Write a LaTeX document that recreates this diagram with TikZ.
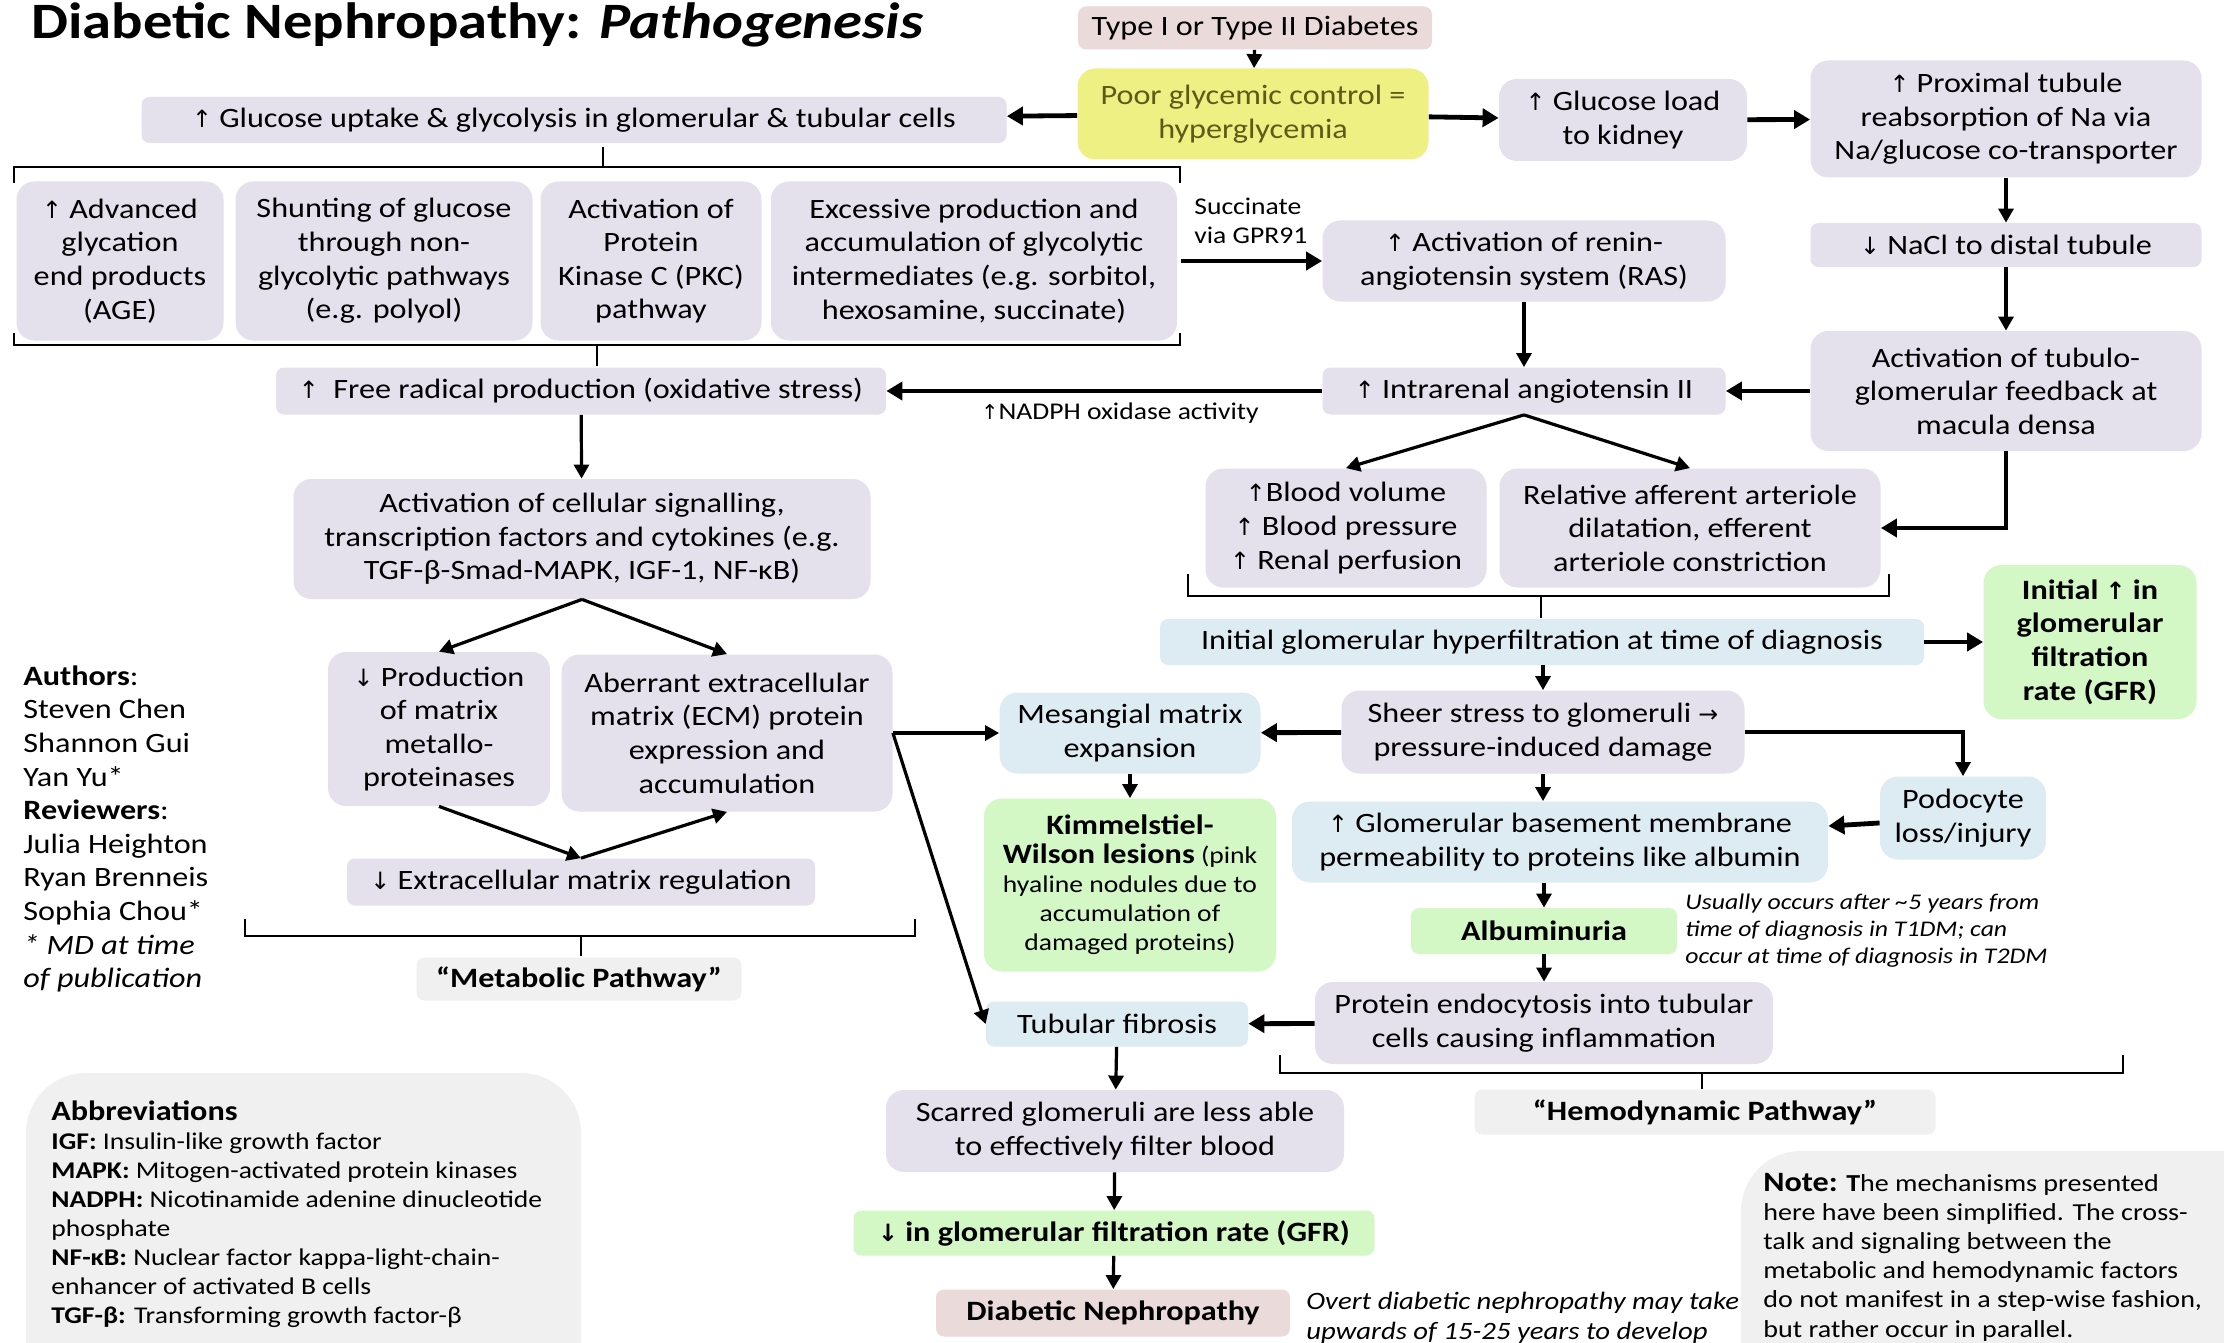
\documentclass[tikz,border=0pt]{standalone}
\usepackage{fontspec}
\setmainfont{Carlito}[FakeStretch=1.15]
\newfontfamily\symf[Scale=0.85]{DejaVu Sans}
\usetikzlibrary{arrows.meta,positioning}
\definecolor{purp}{HTML}{E4E0EC}
\definecolor{blu}{HTML}{DDEBF2}
\definecolor{grn}{HTML}{D3F8C6}
\definecolor{pnk}{HTML}{EBDADA}
\definecolor{ylw}{HTML}{EEF083}
\definecolor{olv}{HTML}{5C5C18}
\definecolor{lgray}{HTML}{F0F0F0}
\newcommand{\bodyf}{\fontsize{14}{16.8}\selectfont}
\newcommand{\smf}{\fontsize{12}{14.5}\selectfont}
\newcommand{\upa}{{\symf ↑}}
\newcommand{\dna}{{\symf ↓}}
\newcommand{\rta}{{\symf →}}
\tikzset{
  box/.style={align=center, inner sep=2pt, rounded corners=9pt, font=\bodyf},
  sz/.style 2 args={minimum width=#1*0.5pt, minimum height=#2*0.5pt},
  flat/.style={rounded corners=4pt},
  pbox/.style={box, fill=purp},
  bbox/.style={box, fill=blu},
  gbox/.style={box, fill=grn, font=\bodyf\bfseries},
  kbox/.style={box, fill=pnk},
  lbox/.style={box, fill=lgray, font=\bodyf\bfseries},
  txt/.style={align=left, inner sep=0pt, anchor=west},
  arr/.style={-{Triangle[length=7pt,width=7.5pt]}, line width=1.6pt},
  arrb/.style={-{Triangle[length=8pt,width=9pt]}, line width=2.4pt},
  brk/.style={line width=1.2pt},
}
\begin{document}
\begin{tikzpicture}[x=0.5pt,y=-0.5pt]
  \clip (0,0) rectangle (2224,1343);
  \fill[white] (0,0) rectangle (2224,1343);

  % title and side texts
  \node[txt, font=\fontsize{25.5}{30}\selectfont\bfseries] (title) at (31,25)
    {Diabetic Nephropathy: \textit{Pathogenesis}};
  \node[txt, font=\bodyf] (authors) at (23,829)
    {\textbf{Authors}:\\Steven Chen\\Shannon Gui\\Yan Yu*\\\textbf{Reviewers}:\\Julia Heighton\\Ryan Brenneis\\Sophia Chou*\\\textit{* MD at time}\\\textit{of publication}};
  \fill[lgray, rounded corners=30pt] (26,1073) rectangle (581,1400);
  \node[txt, font=\smf] (abbr) at (51,1214)
    {{\bodyf\textbf{Abbreviations}}\\\textbf{IGF:} Insulin-like growth factor\\\textbf{MAPK:} Mitogen-activated protein kinases\\\textbf{NADPH:} Nicotinamide adenine dinucleotide\\phosphate\\\textbf{NF-κB:} Nuclear factor kappa-light-chain-\\enhancer of activated B cells\\\textbf{TGF-β:} Transforming growth factor-β};
  \fill[lgray, rounded corners=30pt] (1741,1151) rectangle (2280,1400);
  \node[txt, font=\fontsize{12.2}{14.6}\selectfont] (note) at (1763,1257)
    {{\bodyf\textbf{Note:}} \textbf{T}he mechanisms presented\\here have been simplified. The cross-\\talk and signaling between the\\metabolic and hemodynamic factors\\do not manifest in a step-wise fashion,\\but rather occur in parallel.};

  % top row
  \node[kbox, flat, sz={354}{43}] (typ) at (1255,28) {Type I or Type II Diabetes};
  \node[box, fill=ylw, text=olv, sz={351}{91}] (poor) at (1253,114) {Poor glycemic control =\\hyperglycemia};
  \node[pbox, flat, sz={865}{46}] (gup) at (574,120) {\upa{} Glucose uptake \& glycolysis in glomerular \& tubular cells};
  \node[pbox, sz={248}{82}] (gload) at (1623,120) {\upa{} Glucose load\\to kidney};
  \node[pbox, sz={391}{117}] (prox) at (2006,119) {\upa{} Proximal tubule\\reabsorption of Na via\\Na/glucose co-transporter};
  \node[pbox, flat, sz={391}{44}] (nacl) at (2006,245) {\dna{} NaCl to distal tubule};
  \node[pbox, sz={391}{120}] (tgf) at (2006,391) {Activation of tubulo-\\glomerular feedback at\\macula densa};

  % metabolic side
  \node[pbox, sz={207}{159}] (age) at (120,261) {\upa{} Advanced\\glycation\\end products\\(AGE)};
  \node[pbox, sz={297}{159}] (shunt) at (384,261) {Shunting of glucose\\through non-\\glycolytic pathways\\(e.g. polyol)};
  \node[pbox, sz={221}{159}] (pkc) at (651,261) {Activation of\\Protein\\Kinase C (PKC)\\pathway};
  \node[pbox, sz={406}{159}] (exc) at (974,261) {Excessive production and\\accumulation of glycolytic\\intermediates (e.g. sorbitol,\\hexosamine, succinate)};
  \node[txt, font=\smf] (succ) at (1194,221) {Succinate\\via GPR91};
  \node[pbox, sz={403}{81}] (ras) at (1524,261) {\upa{} Activation of renin-\\angiotensin system (RAS)};
  \node[pbox, flat, sz={403}{47}] (ang) at (1524,391) {\upa{} Intrarenal angiotensin II};
  \node[pbox, flat, sz={610}{47}] (frad) at (581,391) {\upa{}\ \ Free radical production (oxidative stress)};
  \node[font=\smf, inner sep=0pt] (nadph) at (1120,413) {\upa{}NADPH oxidase activity};
  \node[pbox, sz={577}{120}] (cell) at (582,539) {Activation of cellular signalling,\\transcription factors and cytokines (e.g.\\TGF-β-Smad-MAPK, IGF-1, NF-κB)};
  \node[pbox, sz={222}{154}] (prod) at (439,729) {\dna{} Production\\of matrix\\metallo-\\proteinases};
  \node[pbox, sz={331}{157}] (aber) at (727,733) {Aberrant extracellular\\matrix (ECM) protein\\expression and\\accumulation};
  \node[pbox, flat, sz={468}{47}] (ecm) at (581,882) {\dna{} Extracellular matrix regulation};
  \node[lbox, flat, sz={325}{43}] (metab) at (579,979) {“Metabolic Pathway”};

  % hemodynamic side
  \node[pbox, sz={281}{119}] (bv) at (1346,528) {\upa{}Blood volume\\\upa{} Blood pressure\\\upa{} Renal perfusion};
  \node[pbox, sz={381}{119}] (raa) at (1690,528) {Relative afferent arteriole\\dilatation, efferent\\arteriole constriction};
  \node[bbox, flat, sz={764}{46}] (hyper) at (1542,642) {Initial glomerular hyperfiltration at time of diagnosis};
  \node[gbox, sz={213}{154}] (igfr) at (2090,642) {Initial \upa{} in\\glomerular\\filtration\\rate (GFR)};
  \node[bbox, sz={261}{81}] (mes) at (1130,733) {Mesangial matrix\\expansion};
  \node[pbox, sz={403}{83}] (sheer) at (1543,732) {Sheer stress to glomeruli \rta{}\\pressure-induced damage};
  \node[bbox, sz={166}{83}] (podo) at (1963,818) {Podocyte\\loss/injury};
  \node[bbox, sz={536}{81}] (gbm) at (1560,842) {\upa{} Glomerular basement membrane\\permeability to proteins like albumin};
  \node[box, fill=grn, font=\smf, sz={292}{173}] (kw) at (1130,885)
    {{\bodyf\textbf{Kimmelstiel-}}\\{\bodyf\textbf{Wilson lesions}} (pink\\hyaline nodules due to\\accumulation of\\damaged proteins)};
  \node[gbox, flat, sz={266}{46}] (alb) at (1544,931) {Albuminuria};
  \node[txt, font=\fontsize{11.2}{13.5}\selectfont\itshape] (albn) at (1685,931)
    {Usually occurs after \textasciitilde5 years from\\time of diagnosis in T1DM; can\\occur at time of diagnosis in T2DM};
  \node[pbox, sz={458}{82}] (prot) at (1544,1023) {Protein endocytosis into tubular\\cells causing inflammation};
  \node[bbox, flat, sz={262}{45}] (tub) at (1117,1024) {Tubular fibrosis};
  \node[lbox, flat, sz={461}{45}] (hemo) at (1705,1112) {“Hemodynamic Pathway”};
  \node[pbox, sz={458}{82}] (scar) at (1115,1131) {Scarred glomeruli are less able\\to effectively filter blood};
  \node[gbox, flat, sz={521}{45}] (dgfr) at (1114,1233) {\dna{} in glomerular filtration rate (GFR)};
  \node[kbox, flat, sz={354}{47}, font=\bodyf\bfseries] (dn) at (1113,1313) {Diabetic Nephropathy};
  \node[txt, font=\fontsize{12.5}{15}\selectfont\itshape] (overt) at (1306,1318)
    {Overt diabetic nephropathy may take\\upwards of 15-25 years to develop};

  % brackets
  \draw[brk] (14,183) -- (14,167) -- (1180,167) -- (1180,183);
  \draw[brk] (603,167) -- (603,147);
  \draw[brk] (14,333) -- (14,345) -- (1180,345) -- (1180,333);
  \draw[brk] (597,345) -- (597,366);
  \draw[brk] (1188,574) -- (1188,596) -- (1889,596) -- (1889,574);
  \draw[brk] (1541,596) -- (1541,618);
  \draw[brk] (245,919) -- (245,936) -- (915,936) -- (915,919);
  \draw[brk] (581,936) -- (581,956);
  \draw[brk] (1280,1055) -- (1280,1073) -- (2123,1073) -- (2123,1055);
  \draw[brk] (1702,1073) -- (1702,1089);

  % connectors
  \draw[arr] (typ) -- (poor);
  \draw[arrb] (poor) -- (gup);
  \draw[arrb] (poor) -- (gload);
  \draw[arrb] (gload) -- (prox);
  \draw[arr] (prox) -- (nacl);
  \draw[arr] (nacl) -- (tgf);
  \draw[arrb] (exc.east) ++(4,0) coordinate (excr) (excr) -- (ras.west);
  \draw[arr] (ras) -- (ang);
  \draw[arrb] (tgf) -- (ang);
  \draw[arrb] (ang) -- (frad);
  \draw[arr] (frad) -- (cell);
  \draw[arr] (cell.south) -- (prod.north);
  \draw[arr] (cell.south) -- (aber.north);
  \draw[arr] (prod.south) -- (ecm.north);
  \draw[arr] (ecm.north) -- (aber.south);
  \draw[arr] (aber.east) -- (mes.west);
  \draw[arr] (aber.east) -- (tub.west);
  \draw[arr] (ang.south) -- (bv.north);
  \draw[arr] (ang.south) -- (raa.north);
  \draw[arrb] (tgf.south) |- (raa.east);
  \draw[arrb] (hyper) -- (igfr);
  \draw[arr] (hyper.south -| sheer.north) -- (sheer.north);
  \draw[arrb] (sheer) -- (mes);
  \draw[arr] (sheer.east) -| (podo.north);
  \draw[arrb] (podo) -- (gbm);
  \draw[arr] (sheer.south) -- (sheer.south |- gbm.north);
  \draw[arr] (mes) -- (kw);
  \draw[arr] (alb.north |- gbm.south) -- (alb.north);
  \draw[arr] (alb) -- (prot);
  \draw[arrb] (prot) -- (tub);
  \draw[arr] (tub) -- (scar);
  \draw[arr] (scar) -- (dgfr);
  \draw[arr] (dgfr) -- (dn);
\end{tikzpicture}
\end{document}
